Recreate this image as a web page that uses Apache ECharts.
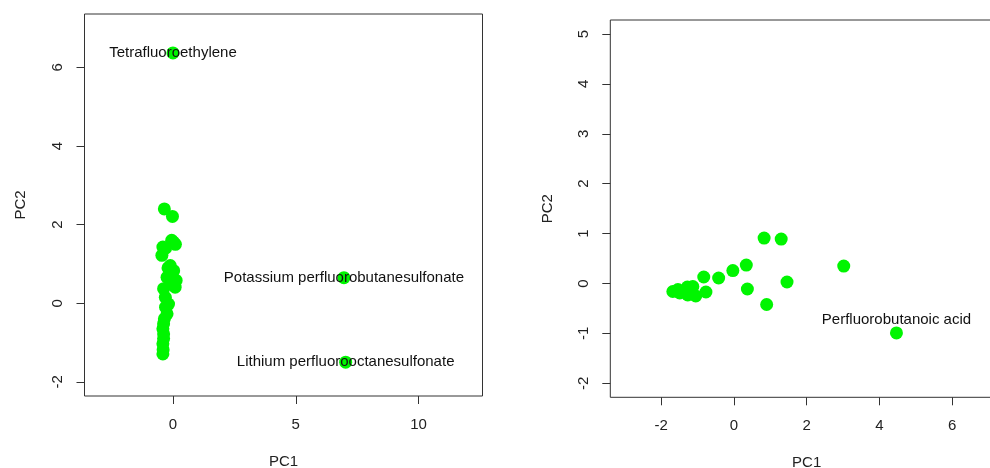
<!DOCTYPE html>
<html>
<head>
<meta charset="utf-8">
<script src="https://cdn.jsdelivr.net/npm/echarts@6/dist/echarts.min.js"></script>
<style>html,body{margin:0;padding:0;background:#fff;}#c{width:990px;height:468px;}</style>
</head>
<body>
<div id="c"></div>
<script>
// Left panel data (PC1, PC2)
var leftX = [-0.35,-0.02,0.03,-0.05,0.10,-0.41,-0.30,-0.45,-0.11,-0.20,0.03,0.03,-0.24,0.13,0.09,-0.05,-0.38,-0.31,-0.18,-0.24,-0.30,-0.38,-0.35,-0.38,-0.41,-0.41,-0.38,-0.41,-0.40, 0.00, 6.96, 7.03];
var leftY = [2.40,2.21,1.55,1.60,1.50,1.43,1.40,1.22,0.96,0.90,0.83,0.62,0.66,0.58,0.41,0.50,0.37,0.15,-0.02,-0.27,-0.10,-0.52,-0.40,-0.78,-0.65,-1.03,-0.90,-1.29,-1.18, 6.37, 0.65, -1.50];
var leftNames = ['','','','','','','','','','','','','','','','','','','','','','','','','','','','','', 'Tetrafluoroethylene','Potassium perfluorobutanesulfonate','Lithium perfluorooctanesulfonate'];
// Right panel data
var rightX = [0.83,1.30,0.34,-0.03,-0.42,-0.83,1.46,0.37,0.90,3.02,-0.77,-1.05,-1.13,-1.28,-1.27,-1.49,-1.68,-1.54, 4.47];
var rightY = [0.91,0.89,0.37,0.26,0.11,0.13,0.03,-0.11,-0.42,0.35,-0.17,-0.25,-0.06,-0.07,-0.23,-0.19,-0.16,-0.12, -0.99];
var rightNames = ['','','','','','','','','','','','','','','','','','', 'Perfluorobutanoic acid'];
// Tick labels
var leftXTicks = [0,5,10];
var leftYTicks = [-2,0,2,4,6];
var rightXTicks = [-2,0,2,4,6];
var rightYTicks = [-2,-1,0,1,2,3,4,5];

var FONT = 'Liberation Sans, Arial, sans-serif';
var GREEN = '#00f500';
var TXT = '#222';

function mk(xs, ys, names, offset) {
  return xs.map(function(x, i) {
    var d = {value: [x, ys[i]]};
    if (names[i]) {
      d.label = {show: true, formatter: names[i], position: 'inside', offset: offset,
        color: '#111', fontSize: 15, fontFamily: FONT};
    }
    return d;
  });
}

function xAxis(idx, min, max, ticks) {
  return {gridIndex: idx, type: 'value', min: min, max: max, name: 'PC1',
    nameLocation: 'middle', nameGap: 58,
    nameTextStyle: {color: TXT, fontSize: 15, fontFamily: FONT},
    axisLine: {show: false, onZero: false}, splitLine: {show: false},
    axisTick: {show: true, length: 8, customValues: ticks, lineStyle: {color: '#333'}},
    axisLabel: {customValues: ticks, margin: 21, color: TXT, fontSize: 15, fontFamily: FONT}};
}
function yAxis(idx, min, max, ticks, gap) {
  return {gridIndex: idx, type: 'value', min: min, max: max, name: 'PC2',
    nameLocation: 'middle', nameGap: gap,
    nameTextStyle: {color: TXT, fontSize: 15, fontFamily: FONT},
    axisLine: {show: false, onZero: false}, splitLine: {show: false},
    axisTick: {show: true, length: 8, customValues: ticks, lineStyle: {color: '#333'}},
    axisLabel: {customValues: ticks, rotate: 90, margin: 19, color: TXT, fontSize: 15, fontFamily: FONT}};
}

var chart = echarts.init(document.getElementById('c'), null, {renderer: 'canvas'});
chart.setOption({
  animation: false,
  backgroundColor: '#fff',
  grid: [
    {left: 84.5, right: 507.5, top: 14, bottom: 72, show: true, borderColor: '#333', borderWidth: 1, backgroundColor: 'transparent', containLabel: false, outerBoundsMode: 'none'},
    {left: 610.3, right: -13, top: 20, bottom: 70.7, show: true, borderColor: '#333', borderWidth: 1, backgroundColor: 'transparent', containLabel: false, outerBoundsMode: 'none'}
  ],
  xAxis: [xAxis(0, -3.6, 12.6, leftXTicks), xAxis(1, -3.4, 7.4, rightXTicks)],
  yAxis: [yAxis(0, -2.36, 7.36, leftYTicks, 56), yAxis(1, -2.28, 5.28, rightYTicks, 55)],
  series: [
    {type: 'scatter', xAxisIndex: 0, yAxisIndex: 0, symbolSize: 13, itemStyle: {color: GREEN, opacity: 1},
      data: mk(leftX, leftY, leftNames, [0, 0])},
    {type: 'scatter', xAxisIndex: 1, yAxisIndex: 1, symbolSize: 13, itemStyle: {color: GREEN, opacity: 1},
      data: mk(rightX, rightY, rightNames, [0, -13])}
  ]
});
</script>
</body>
</html>
